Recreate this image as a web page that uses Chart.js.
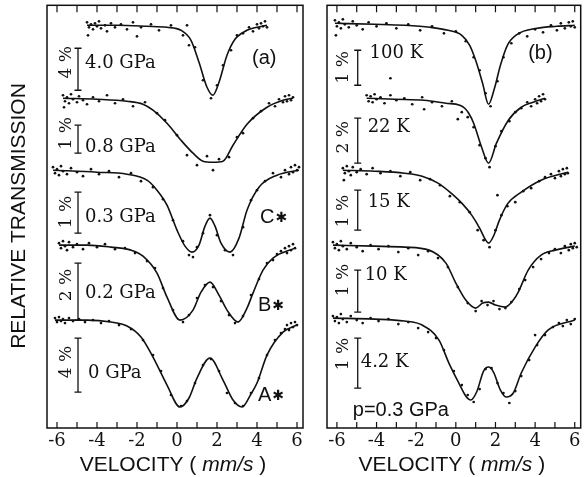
<!DOCTYPE html>
<html>
<head>
<meta charset="utf-8">
<script src="https://cdn.jsdelivr.net/npm/chart.js@4.4.0/dist/chart.umd.min.js"></script>
<style>
    html, body { margin: 0; padding: 0; background: #fff; }
    #wrap { position: relative; width: 586px; height: 477px; }
    canvas { position: absolute; top: 0; }
    #chartA { left: 0; }
    #chartB { left: 310px; }
</style>
</head>
<body>
<div id="wrap">
    <canvas id="chartA" width="310" height="477"></canvas>
    <canvas id="chartB" width="276" height="477"></canvas>
</div>
<script>
// Velocity ticks (mm/s)
const velTicks = [-6, -5, -4, -3, -2, -1, 0, 1, 2, 3, 4, 5, 6];
const velLabels = [-6, -4, -2, 0, 2, 4, 6];

// y values: stacked relative transmission, arbitrary offset units (down = more absorption)

// ---- panel (a): pressure series ----
const fitVelP40 = [-4.5, -3, -1.5, -0.5, 0.2, 0.7, 1.1, 1.5, 1.8, 2.1, 2.5, 2.9, 3.5, 4.0, 4.5];
const fitP40    = [20, 20, 21, 22, 25, 35, 57, 82, 90, 77, 50, 34, 25, 22, 20];
const dotsP40 = [[-4.5,17],[-4.4,22],[-4.3,19],[-4.2,24],[-4.1,18],[-4.0,21],[-3.9,16],[-3.8,23],[-3.6,20],[-3.5,26],
    [-3.3,18],[-3.1,22],[-2.8,19],[-2.5,24],[-2.2,17],[-1.8,22],[-1.3,19],[-0.9,25],[-0.3,20],[0.3,30],[0.6,40],[0.9,42],
    [1.3,75],[1.7,93],[2.0,80],[2.3,60],[2.7,45],[3.0,30],[3.3,28],[3.6,22],[3.8,26],[4.0,19],[4.1,23],[4.2,18],[4.3,21],
    [4.4,16],[4.5,22],[-4.45,30],[-2.0,31],[0.5,20]];

const fitVelP08 = [-5.7, -4, -2.5, -1.7, -1.2, -0.5, 0.2, 0.8, 1.3, 1.8, 2.3, 2.8, 3.5, 4.5, 5.3, 5.8];
const fitP08    = [93, 94, 96, 99, 105, 118, 135, 148, 156, 157, 156, 140, 119, 102, 95, 93];
const dotsP08 = [[-5.7,90],[-5.6,96],[-5.5,92],[-5.4,98],[-5.3,89],[-5.2,94],[-5.0,97],[-4.9,91],[-4.7,95],[-4.5,99],
    [-4.2,92],[-3.9,96],[-3.5,90],[-3.1,98],[-2.7,94],[-2.2,101],[-1.6,97],[-1.0,108],[-0.6,115],[0.0,130],[0.5,150],
    [1.0,160],[1.5,151],[1.8,165],[2.1,154],[2.6,152],[3.0,132],[3.3,128],[3.8,113],[4.2,106],[4.6,98],[4.9,101],[5.1,94],
    [5.3,97],[5.4,91],[5.5,96],[5.6,90],[5.7,95],[5.8,92],[-5.65,102]];

const fitVelP03 = [-6.2, -4, -2.5, -1.5, -1.0, -0.5, 0, 0.4, 0.75, 1.1, 1.4, 1.65, 1.9, 2.2, 2.65, 3.1, 3.5, 4.1, 5.0, 6.1];
const fitP03    = [165, 167, 169, 175, 185, 200, 225, 241, 247, 240, 221, 213, 221, 238, 247, 233, 205, 182, 170, 165];
const dotsP03 = [[-6.2,162],[-6.1,168],[-6.0,164],[-5.9,170],[-5.8,161],[-5.7,166],[-5.5,169],[-5.3,163],[-5.0,167],
    [-4.7,171],[-4.3,164],[-3.9,169],[-3.4,166],[-2.9,172],[-2.3,168],[-1.8,176],[-1.2,182],[-0.7,194],[-0.2,215],[0.3,236],
    [0.6,250],[1.0,242],[1.3,228],[1.65,210],[2.0,230],[2.4,245],[2.8,250],[3.3,222],[3.7,195],[4.0,185],[4.4,176],
    [4.8,168],[5.2,172],[5.4,165],[5.6,169],[5.7,162],[5.8,167],[5.9,160],[6.0,165],[6.1,162],[0.8,252]];

const fitVelP02 = [-5.9, -4.5, -3.3, -2.3, -1.7, -1.0, -0.5, 0.15, 0.8, 1.2, 1.65, 2.1, 2.5, 3.05, 3.5, 3.8, 4.3, 4.8, 5.9];
const fitP02    = [240, 240, 242, 245, 251, 268, 292, 315, 305, 287, 277, 290, 305, 317, 303, 288, 265, 253, 243];
const dotsP02 = [[-5.9,238],[-5.8,243],[-5.7,236],[-5.6,241],[-5.5,245],[-5.4,237],[-5.2,242],[-5.0,239],[-4.7,244],
    [-4.4,238],[-4.0,242],[-3.6,239],[-3.1,244],[-2.6,243],[-2.1,248],[-1.5,256],[-1.1,263],[-0.7,283],[-0.2,305],[0.3,317],
    [0.6,310],[1.0,293],[1.4,280],[1.8,282],[2.2,296],[2.6,310],[2.9,318],[3.3,311],[3.7,290],[4.1,274],[4.5,258],
    [4.8,255],[5.0,249],[5.2,246],[5.4,243],[5.5,248],[5.6,241],[5.7,245],[5.8,239],[5.9,243]];

const fitVelP00 = [-6.1, -4.5, -3.3, -2.5, -1.8, -1.2, -0.5, 0.15, 0.6, 1.0, 1.65, 2.3, 2.8, 3.25, 3.7, 4.0, 4.5, 5.3, 6.0];
const fitP00    = [315, 315, 317, 321, 332, 352, 380, 402, 393, 373, 353, 375, 395, 402, 389, 378, 350, 327, 320];
const dotsP00 = [[-6.1,313],[-6.0,317],[-5.9,312],[-5.8,316],[-5.7,314],[-5.6,318],[-5.4,313],[-5.2,316],[-4.9,314],
    [-4.6,317],[-4.2,315],[-3.8,318],[-3.4,316],[-2.9,320],[-2.3,324],[-1.7,335],[-1.2,350],[-0.8,366],[-0.3,390],[0.2,401],
    [0.5,396],[0.9,378],[1.3,360],[1.7,354],[2.1,366],[2.5,388],[2.9,398],[3.3,401],[3.7,388],[4.1,373],[4.5,350],
    [4.9,335],[5.2,328],[5.4,324],[5.5,320],[5.6,325],[5.7,318],[5.8,322],[5.9,317],[6.0,320]];

// ---- panel (b): temperature series at p = 0.3 GPa ----
const fitVelT100 = [-6.1, -4.1, -2.6, -1.3, -0.4, 0.3, 0.7, 1.0, 1.35, 1.65, 1.95, 2.25, 2.6, 3.1, 4.1, 5.1, 6.0];
const fitT100    = [18, 19, 20, 22, 25, 30, 40, 55, 78, 99, 83, 60, 40, 29, 23, 21, 20];
const dotsT100 = [[-6.1,15],[-6.0,21],[-5.9,17],[-5.8,23],[-5.7,14],[-5.6,19],[-5.4,22],[-5.2,16],[-5.0,20],[-4.7,24],
    [-4.4,17],[-4.0,21],[-3.5,18],[-3.0,23],[-2.4,19],[-1.8,25],[-1.2,21],[-0.6,28],[0.0,26],[0.5,36],[0.9,52],[1.2,65],
    [1.5,88],[1.75,101],[2.1,76],[2.4,52],[2.8,38],[3.2,28],[3.6,31],[4.0,24],[4.4,27],[4.8,20],[5.1,25],[5.3,18],
    [5.5,23],[5.7,17],[5.8,21],[5.9,16],[6.0,22],[-6.05,30],[-3.3,73]];

const fitVelT22 = [-4.5, -3.1, -1.6, -0.5, 0.2, 0.45, 0.65, 0.9, 1.3, 1.65, 2.05, 2.65, 3.3, 3.9, 4.5];
const fitT22    = [93, 94, 95, 98, 100, 103, 108, 118, 142, 158, 138, 115, 102, 97, 93];
const dotsT22 = [[-4.5,90],[-4.4,96],[-4.3,91],[-4.2,97],[-4.1,89],[-4.0,94],[-3.8,92],[-3.6,98],[-3.3,90],[-3.0,95],
    [-2.6,93],[-2.2,99],[-1.7,92],[-1.2,97],[-0.7,101],[-0.2,96],[0.3,107],[0.6,112],[0.9,122],[1.2,140],[1.5,153],
    [1.7,162],[2.0,141],[2.3,126],[2.7,116],[3.0,107],[3.3,103],[3.6,97],[3.8,101],[4.0,94],[4.1,98],[4.2,91],[4.3,96],
    [4.4,89],[4.5,94],[-1.6,104],[0.1,114]];

const fitVelT15 = [-5.7, -4.1, -2.6, -1.7, -0.9, -0.3, 0.3, 0.8, 1.2, 1.45, 1.65, 1.9, 2.2, 2.6, 3.3, 4.3, 5.65];
const fitT15    = [165, 166, 168, 171, 178, 187, 198, 210, 223, 233, 238, 231, 215, 199, 187, 175, 167];
const dotsT15 = [[-5.7,163],[-5.6,168],[-5.5,161],[-5.4,166],[-5.3,170],[-5.2,162],[-5.0,167],[-4.8,164],[-4.5,169],
    [-4.2,163],[-3.8,168],[-3.3,166],[-2.8,171],[-2.3,167],[-1.8,175],[-1.3,174],[-0.8,180],[-0.3,191],[0.2,197],[0.7,207],
    [1.1,225],[1.4,235],[1.7,242],[2.0,225],[2.3,210],[2.6,201],[3.0,197],[3.4,186],[3.8,183],[4.2,176],[4.5,172],
    [4.8,169],[5.0,173],[5.2,166],[5.3,171],[5.4,164],[5.5,169],[5.6,163],[5.65,168],[-5.65,175],[2.1,190]];

const fitVelT10 = [-6.2, -4.1, -2.6, -1.35, -0.5, 0, 0.5, 1.0, 1.35, 1.65, 2.0, 2.5, 2.9, 3.15, 3.65, 4.3, 5.0, 6.0];
const fitT10    = [240, 241, 242, 245, 258, 278, 295, 303, 298, 297, 300, 302, 295, 287, 265, 250, 245, 241];
const dotsT10 = [[-6.2,237],[-6.1,243],[-6.0,239],[-5.9,245],[-5.8,236],[-5.7,241],[-5.5,244],[-5.3,238],[-5.0,242],
    [-4.7,246],[-4.3,240],[-3.9,244],[-3.4,241],[-2.9,247],[-2.4,243],[-1.9,250],[-1.4,246],[-0.9,253],[-0.4,262],
    [0.1,282],[0.6,298],[1.0,306],[1.3,296],[1.6,300],[1.9,296],[2.2,304],[2.5,303],[2.8,297],[3.2,284],[3.5,275],
    [3.9,262],[4.3,254],[4.7,248],[5.0,244],[5.3,248],[5.5,241],[5.7,245],[5.8,239],[5.9,243],[6.0,238],[6.1,242]];

const fitVelT4 = [-6.2, -4.1, -2.6, -1.7, -0.85, -0.35, 0.15, 0.5, 0.75, 1.05, 1.4, 1.65, 1.9, 2.25, 2.55, 2.9, 3.3, 4.0, 4.65, 6.0];
const fitT4    = [313, 314, 316, 320, 335, 358, 378, 391, 395, 387, 366, 362, 367, 385, 392, 388, 368, 342, 325, 315];
const dotsT4 = [[-6.2,311],[-6.1,316],[-6.0,312],[-5.9,318],[-5.8,309],[-5.7,314],[-5.5,317],[-5.3,311],[-5.0,315],
    [-4.7,318],[-4.3,313],[-3.9,316],[-3.4,314],[-2.9,319],[-2.4,317],[-1.9,323],[-1.4,327],[-1.0,333],[-0.6,345],
    [-0.1,366],[0.3,380],[0.6,390],[0.9,397],[1.2,384],[1.5,364],[1.8,363],[2.1,378],[2.4,388],[2.7,398],[3.0,386],
    [3.3,371],[3.7,355],[4.1,340],[4.5,330],[4.9,322],[5.2,318],[5.4,321],[5.6,315],[5.8,319],[6.0,314],[4.0,330]];

// percent scale bars (top, bottom) at a fixed velocity
const barVel = -4.95;
const barsA = [[43, 85], [120, 148], [187, 228], [258, 315], [333, 387]];
const barsB = [[45, 80], [113, 158], [185, 225], [265, 307], [333, 383]];
const barTextA = ['4 %', '1 %', '1 %', '2 %', '4 %'];
const barTextB = ['1 %', '2 %', '1 %', '1 %', '1 %'];
const curveTextA = ['4.0 GPa', '0.8 GPa', '0.3 GPa', '0.2 GPa', '0 GPa'];
const curveTextB = ['100 K', '22 K', '15 K', '10 K', '4.2 K'];

const SERIF = '"DejaVu Serif", "Liberation Serif", serif';
const SANS = '"Liberation Sans", Arial, sans-serif';
const INK = '#111';

function zip(vs, ys) {
    return vs.map((v, i) => ({ x: v, y: ys[i] }));
}

function spectrumSets(fitVel, fit, dots) {
    return [
        {
            type: 'line',
            data: zip(fitVel, fit),
            borderColor: INK,
            borderWidth: 1.6,
            pointRadius: 0,
            cubicInterpolationMode: 'monotone',
            fill: false
        },
        {
            type: 'scatter',
            data: dots.map(d => ({ x: d[0], y: d[1] })),
            backgroundColor: INK,
            borderWidth: 0,
            pointRadius: 1.35
        }
    ];
}

function barSets(bars) {
    return bars.map(b => ({
        type: 'line',
        data: [{ x: barVel, y: b[0] }, { x: barVel, y: b[1] }],
        borderColor: INK,
        borderWidth: 1.3,
        pointStyle: 'line',
        pointRadius: 3.5,
        pointBorderWidth: 1.3,
        pointBorderColor: INK
    }));
}

// frame, inward ticks and all text labels
function decoPlugin(cfg) {
    return {
        id: 'deco',
        afterDraw(chart) {
            const { ctx, chartArea: a, scales: { x, y } } = chart;
            ctx.save();
            ctx.strokeStyle = INK;
            ctx.fillStyle = INK;
            ctx.lineWidth = 1.5;
            ctx.strokeRect(a.left, a.top, a.right - a.left, a.bottom - a.top);
            ctx.lineWidth = 1.2;
            velTicks.forEach(v => {
                const px = x.getPixelForValue(v);
                ctx.beginPath();
                ctx.moveTo(px, a.bottom); ctx.lineTo(px, a.bottom - 6);
                ctx.moveTo(px, a.top); ctx.lineTo(px, a.top + 7);
                ctx.stroke();
            });

            // curve names
            ctx.font = '18px ' + SERIF;
            ctx.textAlign = 'left';
            ctx.textBaseline = 'middle';
            cfg.names.forEach(n => {
                ctx.fillText(n.text, x.getPixelForValue(n.v), y.getPixelForValue(n.y));
            });

            // percent labels, rotated
            ctx.font = '17px ' + SERIF;
            ctx.textAlign = 'center';
            cfg.pcts.forEach(p => {
                ctx.save();
                ctx.translate(x.getPixelForValue(p.v), y.getPixelForValue(p.y));
                ctx.rotate(-Math.PI / 2);
                ctx.fillText(p.text, 0, 0);
                ctx.restore();
            });

            // sans-serif markers (optional star drawn smaller)
            ctx.textAlign = 'left';
            cfg.marks.forEach(m => {
                let px = x.getPixelForValue(m.v);
                const py = y.getPixelForValue(m.y);
                ctx.font = '20px ' + SANS;
                ctx.fillText(m.text, px, py);
                if (m.star) {
                    px += ctx.measureText(m.text).width + 1;
                    ctx.font = '14px "DejaVu Sans", sans-serif';
                    ctx.fillText('\u2731', px, py + 1);
                }
            });

            // axis title: VELOCITY ( mm/s )
            const parts = [['VELOCITY ( ', ''], ['mm/s', 'italic '], [' )', '']];
            let total = 0;
            parts.forEach(p => { ctx.font = p[1] + '21px ' + SANS; total += ctx.measureText(p[0]).width; });
            let cx = (a.left + a.right) / 2 - 2 - total / 2;
            parts.forEach(p => {
                ctx.font = p[1] + '21px ' + SANS;
                ctx.fillText(p[0], cx, 465);
                cx += ctx.measureText(p[0]).width;
            });

            if (cfg.yTitle) {
                ctx.save();
                ctx.translate(19, 216);
                ctx.rotate(-Math.PI / 2);
                ctx.textAlign = 'center';
                ctx.font = '21px ' + SANS;
                ctx.fillText(cfg.yTitle, 0, 0);
                ctx.restore();
            }
            ctx.restore();
        }
    };
}

function makePanel(id, sets, pad, cfg) {
    new Chart(document.getElementById(id), {
        type: 'line',
        data: { datasets: sets },
        options: {
            responsive: false,
            animation: false,
            layout: { padding: pad },
            plugins: { legend: { display: false }, tooltip: { enabled: false } },
            scales: {
                x: {
                    type: 'linear',
                    min: -6.5,
                    max: 6.3,
                    afterBuildTicks: s => { s.ticks = velLabels.map(v => ({ value: v })); },
                    afterFit: s => { s.height = 49; },
                    grid: { display: false, drawTicks: false },
                    border: { display: false },
                    ticks: {
                        color: INK,
                        font: { family: SERIF, size: 18 },
                        padding: 3,
                        maxRotation: 0,
                        autoSkip: false,
                        callback: v => String(v)
                    }
                },
                y: { display: false, reverse: true, min: 0, max: 423 }
            }
        },
        plugins: [decoPlugin(cfg)]
    });
}

const setsA = [].concat(
    spectrumSets(fitVelP40, fitP40, dotsP40),
    spectrumSets(fitVelP08, fitP08, dotsP08),
    spectrumSets(fitVelP03, fitP03, dotsP03),
    spectrumSets(fitVelP02, fitP02, dotsP02),
    spectrumSets(fitVelP00, fitP00, dotsP00),
    barSets(barsA)
);
const setsB = [].concat(
    spectrumSets(fitVelT100, fitT100, dotsT100),
    spectrumSets(fitVelT22, fitT22, dotsT22),
    spectrumSets(fitVelT15, fitT15, dotsT15),
    spectrumSets(fitVelT10, fitT10, dotsT10),
    spectrumSets(fitVelT4, fitT4, dotsT4),
    barSets(barsB)
);

// label placement (velocity, offset units)
const nameYA = [58, 142, 212, 288, 368];
const pctYA = [57, 128, 207, 280, 357];
const nameYB = [48, 122, 197, 270, 357];
const pctYB = [62, 132, 206, 275, 349];
const nameVelB = [-4.35, -4.45, -4.45, -4.6, -4.8];

makePanel('chartA', setsA, { left: 47, right: 7, top: 5, bottom: 0 }, {
    names: curveTextA.map((t, i) => ({ text: t, v: i === 4 ? -4.45 : -4.6, y: nameYA[i] })),
    pcts: barTextA.map((t, i) => ({ text: t, v: -5.5, y: pctYA[i] })),
    marks: [
        { text: '(a)', v: 3.75, y: 53 },
        { text: 'C', v: 4.15, y: 212, star: true },
        { text: 'B', v: 4.05, y: 300, star: true },
        { text: 'A', v: 4.05, y: 390, star: true }
    ],
    yTitle: 'RELATIVE TRANSMISSION'
});

makePanel('chartB', setsB, { left: 17, right: 3, top: 5, bottom: 0 }, {
    names: curveTextB.map((t, i) => ({ text: t, v: nameVelB[i], y: nameYB[i] })),
    pcts: barTextB.map((t, i) => ({ text: t, v: -5.65, y: pctYB[i] })),
    marks: [
        { text: '(b)', v: 3.65, y: 48 },
        { text: 'p=0.3 GPa', v: -5.2, y: 405 }
    ]
});
</script>
</body>
</html>
